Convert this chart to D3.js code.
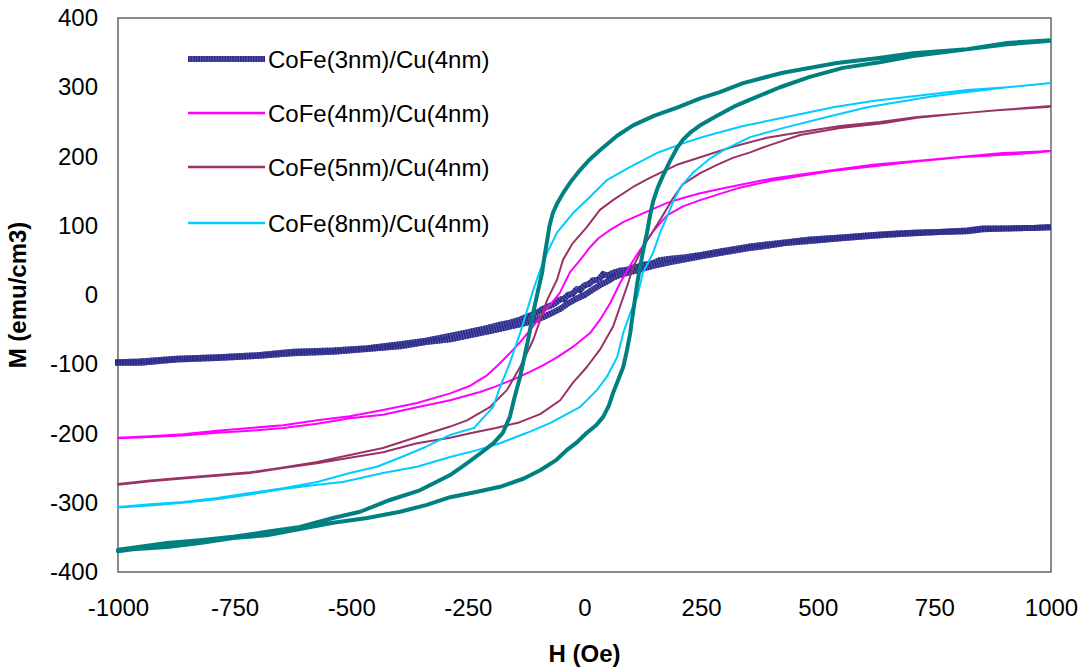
<!DOCTYPE html>
<html>
<head>
<meta charset="utf-8">
<script src="https://cdn.jsdelivr.net/npm/d3@7"></script>
<style>
  body { margin: 0; background: #fff; }
  text { font-family: "Liberation Sans", Arial, sans-serif; }
</style>
</head>
<body>
<div id="chart"></div>
<script>
// tick labels
const xTicks = [-1000, -750, -500, -250, 0, 250, 500, 750, 1000];
const yTicks = [-400, -300, -200, -100, 0, 100, 200, 300, 400];

// series names (the teal loop has no legend entry in the original)
const seriesNames = ["CoFe(3nm)/Cu(4nm)", "CoFe(4nm)/Cu(4nm)", "CoFe(5nm)/Cu(4nm)", "CoFe(8nm)/Cu(4nm)"];

// [H (Oe), M (emu/cm3)], descending branch then ascending branch
const cofe3Down = [[1000,98],[970,97],[900,96],[854,96],[820,93],[760,91],[704,90],[650,88],[606,86],[550,83],[483,80],[430,76],[391,73],[355,70],[320,66],[284,62],[250,58],[211,54],[180,52],[160,50],[147,46],[130,44],[115,41],[104,40],[90,36],[75,35],[61,32],[50,28],[40,30],[30,22],[18,21],[10,16],[0,14],[-10,7],[-16,9],[-25,2],[-35,0],[-45,-6],[-52,-6],[-65,-13],[-75,-16],[-89,-20],[-100,-25],[-110,-28],[-123,-31],[-140,-36],[-160,-40],[-181,-43],[-210,-48],[-252,-54],[-288,-59],[-340,-66],[-395,-71],[-466,-77],[-539,-80],[-625,-82],[-702,-87],[-788,-90],[-874,-92],[-953,-96],[-1000,-97]];
const cofe3Up = [[-1000,-98],[-953,-98],[-874,-93],[-788,-91],[-702,-88],[-625,-84],[-539,-82],[-466,-78],[-395,-74],[-340,-68],[-288,-64],[-252,-59],[-210,-53],[-181,-49],[-150,-44],[-123,-40],[-100,-35],[-89,-32],[-70,-26],[-52,-20],[-35,-12],[-16,-5],[0,0],[18,8],[35,15],[50,20],[61,25],[80,30],[104,34],[130,39],[147,42],[180,47],[211,51],[250,56],[284,60],[320,64],[355,68],[391,71],[430,75],[483,78],[550,82],[606,85],[650,87],[704,89],[760,91],[820,92],[854,95],[900,96],[970,97],[1000,98]];

const cofe4Down = [[1000,208],[897,205],[734,195],[618,188],[483,176],[400,168],[340,160],[290,153],[248,147],[211,140],[177,133],[150,125],[119,116],[85,106],[55,94],[30,82],[12,69],[-10,50],[-31,33],[-42,18],[-53,3],[-65,-7],[-80,-19],[-98,-35],[-117,-51],[-138,-68],[-160,-84],[-185,-101],[-209,-116],[-245,-131],[-288,-142],[-359,-156],[-432,-166],[-503,-175],[-573,-181],[-646,-188],[-717,-192],[-788,-196],[-861,-201],[-931,-204],[-1000,-206]];
const cofe4Up = [[-1000,-207],[-931,-205],[-861,-203],[-788,-199],[-717,-196],[-646,-192],[-573,-186],[-503,-178],[-432,-173],[-359,-162],[-288,-152],[-224,-140],[-190,-132],[-153,-122],[-117,-111],[-90,-102],[-59,-90],[-25,-75],[12,-55],[33,-36],[55,-12],[76,17],[98,43],[119,65],[147,92],[177,115],[211,128],[248,137],[290,146],[333,155],[400,165],[462,172],[530,179],[606,185],[700,192],[805,199],[891,202],[960,205],[1000,208]];

const cofe5Down = [[1000,273],[891,267],[820,263],[713,257],[633,250],[548,244],[462,235],[391,227],[318,214],[248,199],[198,188],[140,169],[104,156],[61,137],[33,123],[5,98],[-25,75],[-46,51],[-59,22],[-80,-7],[-95,-36],[-110,-65],[-138,-104],[-166,-137],[-203,-162],[-252,-181],[-288,-190],[-359,-205],[-432,-221],[-503,-231],[-573,-241],[-646,-249],[-717,-256],[-788,-260],[-861,-264],[-931,-268],[-1000,-273]];
const cofe5Up = [[-1000,-274],[-931,-269],[-861,-265],[-788,-261],[-717,-257],[-646,-250],[-573,-243],[-503,-235],[-432,-227],[-359,-214],[-288,-206],[-240,-199],[-190,-192],[-140,-184],[-95,-172],[-52,-152],[-25,-127],[5,-104],[33,-79],[61,-46],[76,-17],[91,12],[104,40],[125,69],[147,92],[168,115],[190,140],[211,160],[248,176],[284,188],[318,198],[355,206],[391,215],[462,231],[548,241],[640,248],[713,256],[820,263],[891,267],[1000,272]];

const cofe8Down = [[1000,306],[906,300],[820,296],[691,286],[618,280],[533,271],[425,256],[340,244],[284,234],[248,227],[211,219],[155,205],[98,185],[48,166],[12,142],[-25,118],[-59,90],[-80,61],[-95,36],[-110,7],[-123,-22],[-138,-55],[-160,-98],[-181,-133],[-196,-162],[-237,-192],[-288,-202],[-346,-221],[-396,-235],[-445,-248],[-503,-257],[-573,-270],[-646,-279],[-717,-286],[-788,-293],[-861,-299],[-931,-302],[-1000,-306]];
const cofe8Up = [[-1000,-307],[-931,-304],[-861,-300],[-788,-295],[-717,-288],[-646,-280],[-573,-274],[-518,-270],[-432,-257],[-359,-248],[-288,-234],[-230,-224],[-181,-214],[-123,-199],[-74,-185],[-10,-162],[27,-137],[48,-118],[70,-90],[83,-55],[98,-26],[113,-3],[125,32],[147,61],[162,90],[177,113],[190,135],[205,155],[233,177],[269,197],[300,210],[355,228],[425,241],[520,257],[606,271],[676,279],[747,287],[820,293],[906,300],[1000,306]];

const tealDown = [[1000,368],[906,364],[820,355],[704,349],[627,342],[541,335],[425,321],[340,306],[290,293],[248,284],[200,271],[150,259],[104,245],[70,230],[33,209],[10,195],[-10,180],[-30,163],[-46,147],[-58,133],[-68,118],[-75,100],[-80,79],[-86,55],[-91,32],[-100,5],[-110,-26],[-121,-65],[-130,-93],[-138,-118],[-150,-148],[-160,-176],[-175,-199],[-195,-214],[-218,-226],[-250,-242],[-288,-260],[-353,-282],[-417,-296],[-481,-313],[-539,-322],[-610,-335],[-681,-342],[-753,-349],[-824,-354],[-895,-358],[-968,-365],[-1000,-368]];
const tealUp = [[-1000,-370],[-968,-367],[-895,-364],[-824,-358],[-753,-351],[-681,-347],[-610,-338],[-539,-329],[-466,-322],[-395,-313],[-338,-303],[-288,-292],[-230,-284],[-181,-277],[-130,-265],[-95,-253],[-60,-238],[-38,-224],[-15,-212],[5,-199],[25,-188],[40,-176],[52,-160],[61,-142],[72,-123],[83,-104],[91,-80],[98,-55],[103,-30],[108,-7],[113,17],[119,40],[126,65],[134,90],[140,113],[147,135],[157,155],[168,172],[183,193],[198,212],[212,225],[226,234],[250,246],[284,259],[320,272],[355,282],[419,300],[483,315],[554,328],[633,336],[704,345],[820,355],[906,362],[1000,367]];

var width = 1087, height = 671;
var plot = {left: 118, right: 1051, top: 18, bottom: 572};

var svg = d3.select("#chart").append("svg")
    .attr("width", width)
    .attr("height", height);

var x = d3.scaleLinear().domain([-1000, 1000]).range([plot.left, plot.right]);
var y = d3.scaleLinear().domain([-400, 400]).range([plot.bottom, plot.top]);

// plain hyphen minus like the original
var fmt = d => String(d);

// axes, no tick marks, only labels
svg.append("g")
    .attr("transform", "translate(0," + plot.bottom + ")")
    .call(d3.axisBottom(x).tickValues(xTicks).tickSize(0).tickPadding(27).tickFormat(fmt))
    .call(g => g.select(".domain").remove())
    .selectAll("text")
    .style("font-size", "24px")
    .style("font-family", "'Liberation Sans', Arial, sans-serif")
    .attr("fill", "#000");

svg.append("g")
    .attr("transform", "translate(" + plot.left + ",0)")
    .call(d3.axisLeft(y).tickValues(yTicks).tickSize(0).tickPadding(20).tickFormat(fmt))
    .call(g => g.select(".domain").remove())
    .selectAll("text")
    .style("font-size", "24px")
    .style("font-family", "'Liberation Sans', Arial, sans-serif")
    .attr("fill", "#000");

// plot frame
svg.append("rect")
    .attr("x", plot.left).attr("y", plot.top)
    .attr("width", plot.right - plot.left).attr("height", plot.bottom - plot.top)
    .attr("fill", "none").attr("stroke", "#6e6e6e").attr("stroke-width", 1.6);

var line = d3.line().x(d => x(d[0])).y(d => y(d[1]));

var loops = [
    {data: cofe3Down.concat(cofe3Up), color: "#5a5aab", width: 6, stripes: "#2b2b8b"},
    {data: cofe4Down.concat(cofe4Up), color: "#ff00ff", width: 2},
    {data: cofe5Down.concat(cofe5Up), color: "#993366", width: 2},
    {data: cofe8Down.concat(cofe8Up), color: "#00ccff", width: 2},
    {data: tealDown.concat(tealUp), color: "#008080", width: 4}
];

var curves = svg.append("g");
loops.forEach(function(s) {
    curves.append("path")
        .attr("d", line(s.data))
        .attr("fill", "none")
        .attr("stroke", s.color)
        .attr("stroke-width", s.width)
        .attr("stroke-linejoin", "round");
    if (s.stripes) {
        curves.append("path")
            .attr("d", line(s.data))
            .attr("fill", "none")
            .attr("stroke", s.stripes)
            .attr("stroke-width", s.width)
            .attr("stroke-dasharray", "1.6,1");
    }
});

// legend
var legendY = [59, 113, 167, 223];
var legend = svg.append("g");
seriesNames.forEach(function(name, i) {
    var s = loops[i];
    legend.append("line")
        .attr("x1", 188).attr("x2", 265)
        .attr("y1", legendY[i]).attr("y2", legendY[i])
        .attr("stroke", s.color)
        .attr("stroke-width", i == 0 ? 6 : 2.5);
    if (s.stripes) {
        legend.append("line")
            .attr("x1", 188).attr("x2", 265)
            .attr("y1", legendY[i]).attr("y2", legendY[i])
            .attr("stroke", s.stripes)
            .attr("stroke-width", 6)
            .attr("stroke-dasharray", "1.6,1");
    }
    legend.append("text")
        .attr("x", 268).attr("y", legendY[i] + 8.5)
        .style("font-size", "24px")
        .text(name);
});

// axis titles
svg.append("text")
    .attr("x", (plot.left + plot.right) / 2)
    .attr("y", 662)
    .attr("text-anchor", "middle")
    .style("font-size", "24px")
    .style("font-weight", "bold")
    .text("H (Oe)");

svg.append("text")
    .attr("transform", "translate(26," + (plot.top + plot.bottom) / 2 + ") rotate(-90)")
    .attr("text-anchor", "middle")
    .style("font-size", "24px")
    .style("font-weight", "bold")
    .text("M (emu/cm3)");
</script>
</body>
</html>
